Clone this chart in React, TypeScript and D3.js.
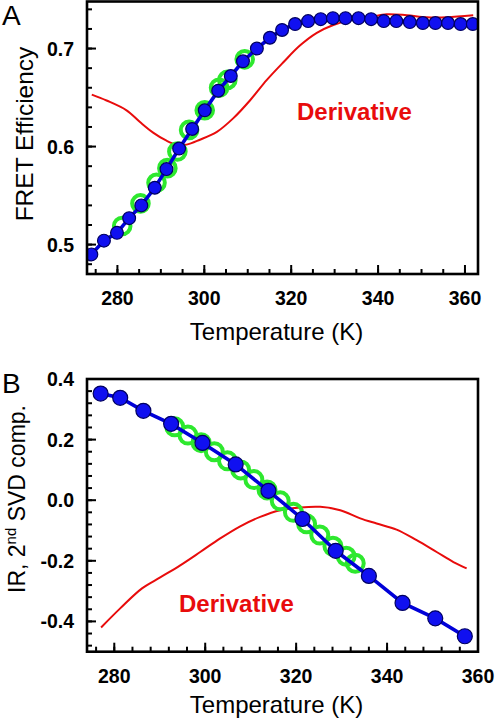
import React from "react";
import * as d3 from "d3";

// ---------- Panel A data ----------
const tempA = [274.0, 276.9, 279.9, 282.7, 285.5, 288.6, 291.3, 294.2, 297.2, 300.1, 303.2, 306.1, 308.9, 312.1, 315.1, 317.9, 320.9, 323.9, 326.8, 329.6, 332.5, 335.5, 338.4, 341.3, 344.2, 347.3, 350.3, 353.2, 356.1, 359.0, 361.8];
const fretA = [0.490, 0.504, 0.512, 0.527, 0.540, 0.558, 0.577, 0.598, 0.618, 0.637, 0.657, 0.672, 0.687, 0.700, 0.711, 0.719, 0.725, 0.728, 0.730, 0.731, 0.731, 0.731, 0.730, 0.728, 0.728, 0.727, 0.726, 0.726, 0.726, 0.725, 0.725];
const greenTempA = [281.1, 285.3, 289.0, 291.5, 293.8, 296.5, 300.1, 303.4, 305.3, 309.3];
const greenValA = [0.519, 0.542, 0.563, 0.578, 0.595, 0.617, 0.637, 0.660, 0.668, 0.689];
const derivTempA = [274.1, 277.5, 282.1, 285.2, 288.3, 291.3, 293.6, 295.9, 299.0, 302.9, 306.7, 310.5, 314.4, 318.2, 322.0, 325.9, 329.7, 333.5, 338.1, 342.0, 346.6, 351.2, 355.8, 361.9];
const derivValA = [0.653, 0.647, 0.637, 0.625, 0.614, 0.606, 0.602, 0.602, 0.607, 0.615, 0.629, 0.647, 0.668, 0.686, 0.703, 0.716, 0.724, 0.729, 0.732, 0.735, 0.734, 0.732, 0.732, 0.734];
const xTicksA = [280, 300, 320, 340, 360];
const yTicksA = [0.5, 0.6, 0.7];
const yTickLabelsA = ["0.5", "0.6", "0.7"];

// ---------- Panel B data ----------
const tempB = [277.0, 281.3, 286.4, 292.5, 299.4, 306.7, 313.9, 321.4, 328.7, 336.0, 343.4, 350.6, 357.1];
const svdB = [0.352, 0.338, 0.295, 0.252, 0.189, 0.118, 0.031, -0.062, -0.167, -0.250, -0.339, -0.390, -0.449];
const greenTempB = [293.3, 296.2, 299.1, 302.0, 304.9, 307.8, 310.7, 313.6, 316.5, 319.4, 322.3, 325.2, 328.1, 331.0, 333.0];
const greenValB = [0.242, 0.215, 0.190, 0.160, 0.130, 0.100, 0.068, 0.034, -0.002, -0.040, -0.078, -0.115, -0.152, -0.185, -0.208];
const derivTempB = [277.1, 281.3, 286.1, 290.1, 294.5, 298.9, 303.3, 307.7, 312.1, 316.5, 320.9, 325.3, 329.7, 334.1, 337.7, 342.1, 346.5, 350.9, 354.6, 357.5];
const derivValB = [-0.420, -0.357, -0.291, -0.255, -0.215, -0.171, -0.126, -0.086, -0.055, -0.033, -0.024, -0.022, -0.033, -0.060, -0.077, -0.097, -0.132, -0.171, -0.204, -0.225];
const xTicksB = [280, 300, 320, 340, 360];
const yTicksB = [-0.4, -0.2, 0.0, 0.2, 0.4];
const yTickLabelsB = ["-0.4", "-0.2", "0.0", "0.2", "0.4"];

const FONT = "'Liberation Sans', Arial, Helvetica, sans-serif";
const BLUE = "#1010f0";
const LINE_BLUE = "#0000d8";
const GREEN = "#2ee82e";
const RED = "#e80c0c";

function range(a: number, b: number, step: number) {
  const out: number[] = [];
  for (let v = a; v <= b + 1e-9; v += step) out.push(+v.toFixed(4));
  return out;
}

type PanelProps = {
  left: number; right: number; top: number; bottom: number;
  xDomain: [number, number]; yDomain: [number, number];
  xTicks: number[]; xMinor: number[]; yTicks: number[]; yLabels: string[]; yMinor: number[];
  temps: number[]; vals: number[]; gT: number[]; gV: number[]; dT: number[]; dV: number[];
  dotR: number; ringR: number;
  derivX: number; derivY: number;
  xLabelY: number; titleY: number;
};

function Panel(p: PanelProps) {
  const x = d3.scaleLinear().domain(p.xDomain).range([p.left, p.right]);
  const y = d3.scaleLinear().domain(p.yDomain).range([p.bottom, p.top]);
  const blueLine = d3.line<number>().x((_, i) => x(p.temps[i])).y((v) => y(v));
  const redLine = d3.line<number>().x((_, i) => x(p.dT[i])).y((v) => y(v)).curve(d3.curveCatmullRom.alpha(0.5));
  const cx = (p.left + p.right) / 2 - 6;
  return (
    <g>
      <defs>
        <clipPath id={`clip${Math.round(p.top)}`}>
          <rect x={p.left} y={p.top} width={p.right - p.left} height={p.bottom - p.top} />
        </clipPath>
      </defs>
      <g clipPath={`url(#clip${Math.round(p.top)})`}>
        <path d={redLine(p.dV) || ""} fill="none" stroke={RED} strokeWidth={2} />
        {p.gT.map((t, i) => (
          <circle key={"g" + i} cx={x(t)} cy={y(p.gV[i])} r={p.ringR} fill="none" stroke={GREEN} strokeWidth={4} />
        ))}
        <path d={blueLine(p.vals) || ""} fill="none" stroke={LINE_BLUE} strokeWidth={3.6} />
        {p.temps.map((t, i) => (
          <circle key={"b" + i} cx={x(t)} cy={y(p.vals[i])} r={p.dotR} fill={BLUE} stroke="#000060" strokeWidth={1.2} />
        ))}
      </g>
      {p.xMinor.map((t) => (
        <line key={"xm" + t} x1={x(t)} x2={x(t)} y1={p.bottom} y2={p.bottom - 5} stroke="#000" strokeWidth={2} />
      ))}
      {p.xTicks.map((t) => (
        <line key={"xM" + t} x1={x(t)} x2={x(t)} y1={p.bottom} y2={p.bottom - 9} stroke="#000" strokeWidth={2} />
      ))}
      {p.yMinor.map((t) => (
        <line key={"ym" + t} x1={p.left} x2={p.left + 5} y1={y(t)} y2={y(t)} stroke="#000" strokeWidth={2} />
      ))}
      {p.yTicks.map((t) => (
        <line key={"yM" + t} x1={p.left} x2={p.left + 9} y1={y(t)} y2={y(t)} stroke="#000" strokeWidth={2} />
      ))}
      <rect x={p.left} y={p.top} width={p.right - p.left} height={p.bottom - p.top} fill="none" stroke="#000" strokeWidth={2.6} />
      {p.xTicks.map((t) => (
        <text key={"xl" + t} x={x(t)} y={p.xLabelY} textAnchor="middle" fontFamily={FONT} fontWeight="bold" fontSize={19.5}>
          {t}
        </text>
      ))}
      {p.yTicks.map((t, i) => (
        <text key={"yl" + t} x={p.left - 13} y={y(t) + 7} textAnchor="end" fontFamily={FONT} fontWeight="bold" fontSize={19.5}>
          {p.yLabels[i]}
        </text>
      ))}
      <text x={cx} y={p.titleY} textAnchor="middle" fontFamily={FONT} fontSize={24}>
        Temperature (K)
      </text>
      <text x={p.derivX} y={p.derivY} fontFamily={FONT} fontWeight="bold" fontSize={24} fill={RED}>
        Derivative
      </text>
    </g>
  );
}

export default function App() {
  return (
    <svg width={495} height={722} style={{ position: "absolute", left: 0, top: 0, background: "#fff" }}>
      <rect x={0} y={0} width={495} height={722} fill="#fff" />
      <Panel
        left={87} right={478} top={1.5} bottom={274}
        xDomain={[273, 363]} yDomain={[0.47, 0.748]}
        xTicks={xTicksA} xMinor={range(275, 360, 5)}
        yTicks={yTicksA} yLabels={yTickLabelsA} yMinor={range(0.48, 0.74, 0.02)}
        temps={tempA} vals={fretA} gT={greenTempA} gV={greenValA} dT={derivTempA} dV={derivValA}
        dotR={6.4} ringR={8.3}
        derivX={297} derivY={119.5}
        xLabelY={305} titleY={340}
      />
      <Panel
        left={87} right={478} top={379} bottom={651.7}
        xDomain={[274, 360]} yDomain={[-0.5, 0.4]}
        xTicks={xTicksB} xMinor={range(276, 360, 4)}
        yTicks={yTicksB} yLabels={yTickLabelsB} yMinor={range(-0.48, 0.4, 0.04)}
        temps={tempB} vals={svdB} gT={greenTempB} gV={greenValB} dT={derivTempB} dV={derivValB}
        dotR={7.5} ringR={8.5}
        derivX={179} derivY={612}
        xLabelY={683} titleY={713}
      />
      <text x={33} y={134} transform="rotate(-90 33 134)" textAnchor="middle" fontFamily={FONT} fontSize={24.5}>
        FRET Efficiency
      </text>
      <text x={25} y={499} transform="rotate(-90 25 499)" textAnchor="middle" fontFamily={FONT} fontSize={23}>
        IR, 2<tspan dy={-9} fontSize={15}>nd</tspan><tspan dy={9}> SVD comp.</tspan>
      </text>
      <text x={2} y={25} fontFamily={FONT} fontSize={28}>A</text>
      <text x={2} y={393} fontFamily={FONT} fontSize={28}>B</text>
    </svg>
  );
}
